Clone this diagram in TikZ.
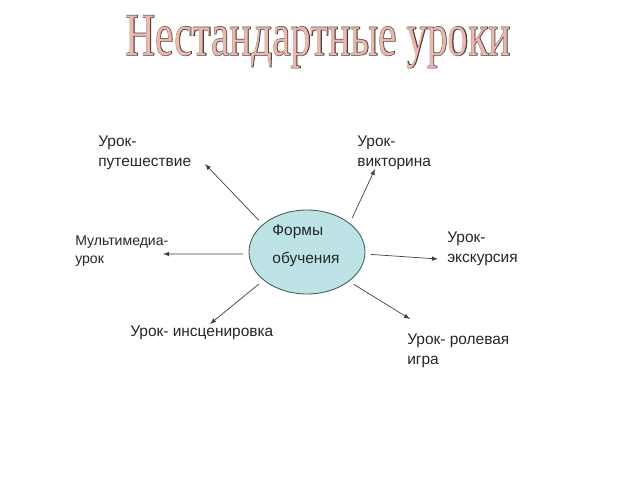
\documentclass[tikz,border=0pt]{standalone}
\usepackage{fontspec}
\usepackage{graphicx}
\setmainfont{Liberation Sans}
\newfontfamily\titlefont{Liberation Serif}
\newfontfamily\titleedge[FakeBold=2]{Liberation Serif}
\usetikzlibrary{arrows}
\usetikzlibrary{shapes.geometric}
\definecolor{formfill}{HTML}{BDE3E6}
\definecolor{formedge}{HTML}{3F5A5A}
\definecolor{titlefill}{HTML}{EBB8AC}
\definecolor{titleedgecolor}{HTML}{4A4040}
\definecolor{arrowcolor}{HTML}{404040}

\tikzset{
  lesson/.style={anchor=north west, inner sep=0pt, align=left, text=black!85,
    font=\fontsize{11}{14.2}\selectfont},
  pointer/.style={arrowcolor, line width=0.5pt, -latex, shorten <=4pt}
}

\begin{document}
\begin{tikzpicture}[x=0.25mm,y=-0.25mm]
\useasboundingbox (0,0) rectangle (640,480);
% title
\node[anchor=base, inner sep=0pt, text=titleedgecolor] (titleout) at (318,55)
  {\scalebox{0.68}[1]{\fontsize{43}{43}\titleedge Нестандартные уроки}};
\node[anchor=base, inner sep=0pt, text=titlefill] (title) at (318,55)
  {\scalebox{0.68}[1]{\fontsize{43}{43}\titlefont Нестандартные уроки}};
% centre
\node[ellipse, draw=formedge, fill=formfill, line width=0.6pt,
  minimum width=29mm, minimum height=21mm, inner sep=0pt] (forms) at (307,252) {};
\node[inner sep=0pt, align=left, text=black!85,
  font=\fontsize{11}{14.2}\selectfont] (formstext) at (306,246)
  {Формы\\[5.5pt]обучения};
% lessons
\node[lesson] (travel) at (98,136) {Урок-\\путешествие};
\node[lesson] (quiz) at (357,136) {Урок-\\викторина};
\node[lesson, font=\fontsize{10}{12.5}\selectfont] (media) at (75,236) {Мультимедиа-\\урок};
\node[lesson] (excursion) at (447,232) {Урок-\\экскурсия};
\node[lesson] (staging) at (130,326) {Урок- инсценировка};
\node[lesson] (roleplay) at (407,334) {Урок- ролевая\\игра};
% arrow tips
\coordinate (toTravel) at (205,164);
\coordinate (toQuiz) at (375,169);
\coordinate (toMedia) at (163,254);
\coordinate (toExcursion) at (438,259);
\coordinate (toStaging) at (210,324);
\coordinate (toRole) at (410,319);
\foreach \a/\t in {148/toTravel, 34/toQuiz, 182/toMedia, -2/toExcursion, 213/toStaging, -35/toRole}
  \draw[pointer] (forms.\a) -- (\t);
\end{tikzpicture}
\end{document}
